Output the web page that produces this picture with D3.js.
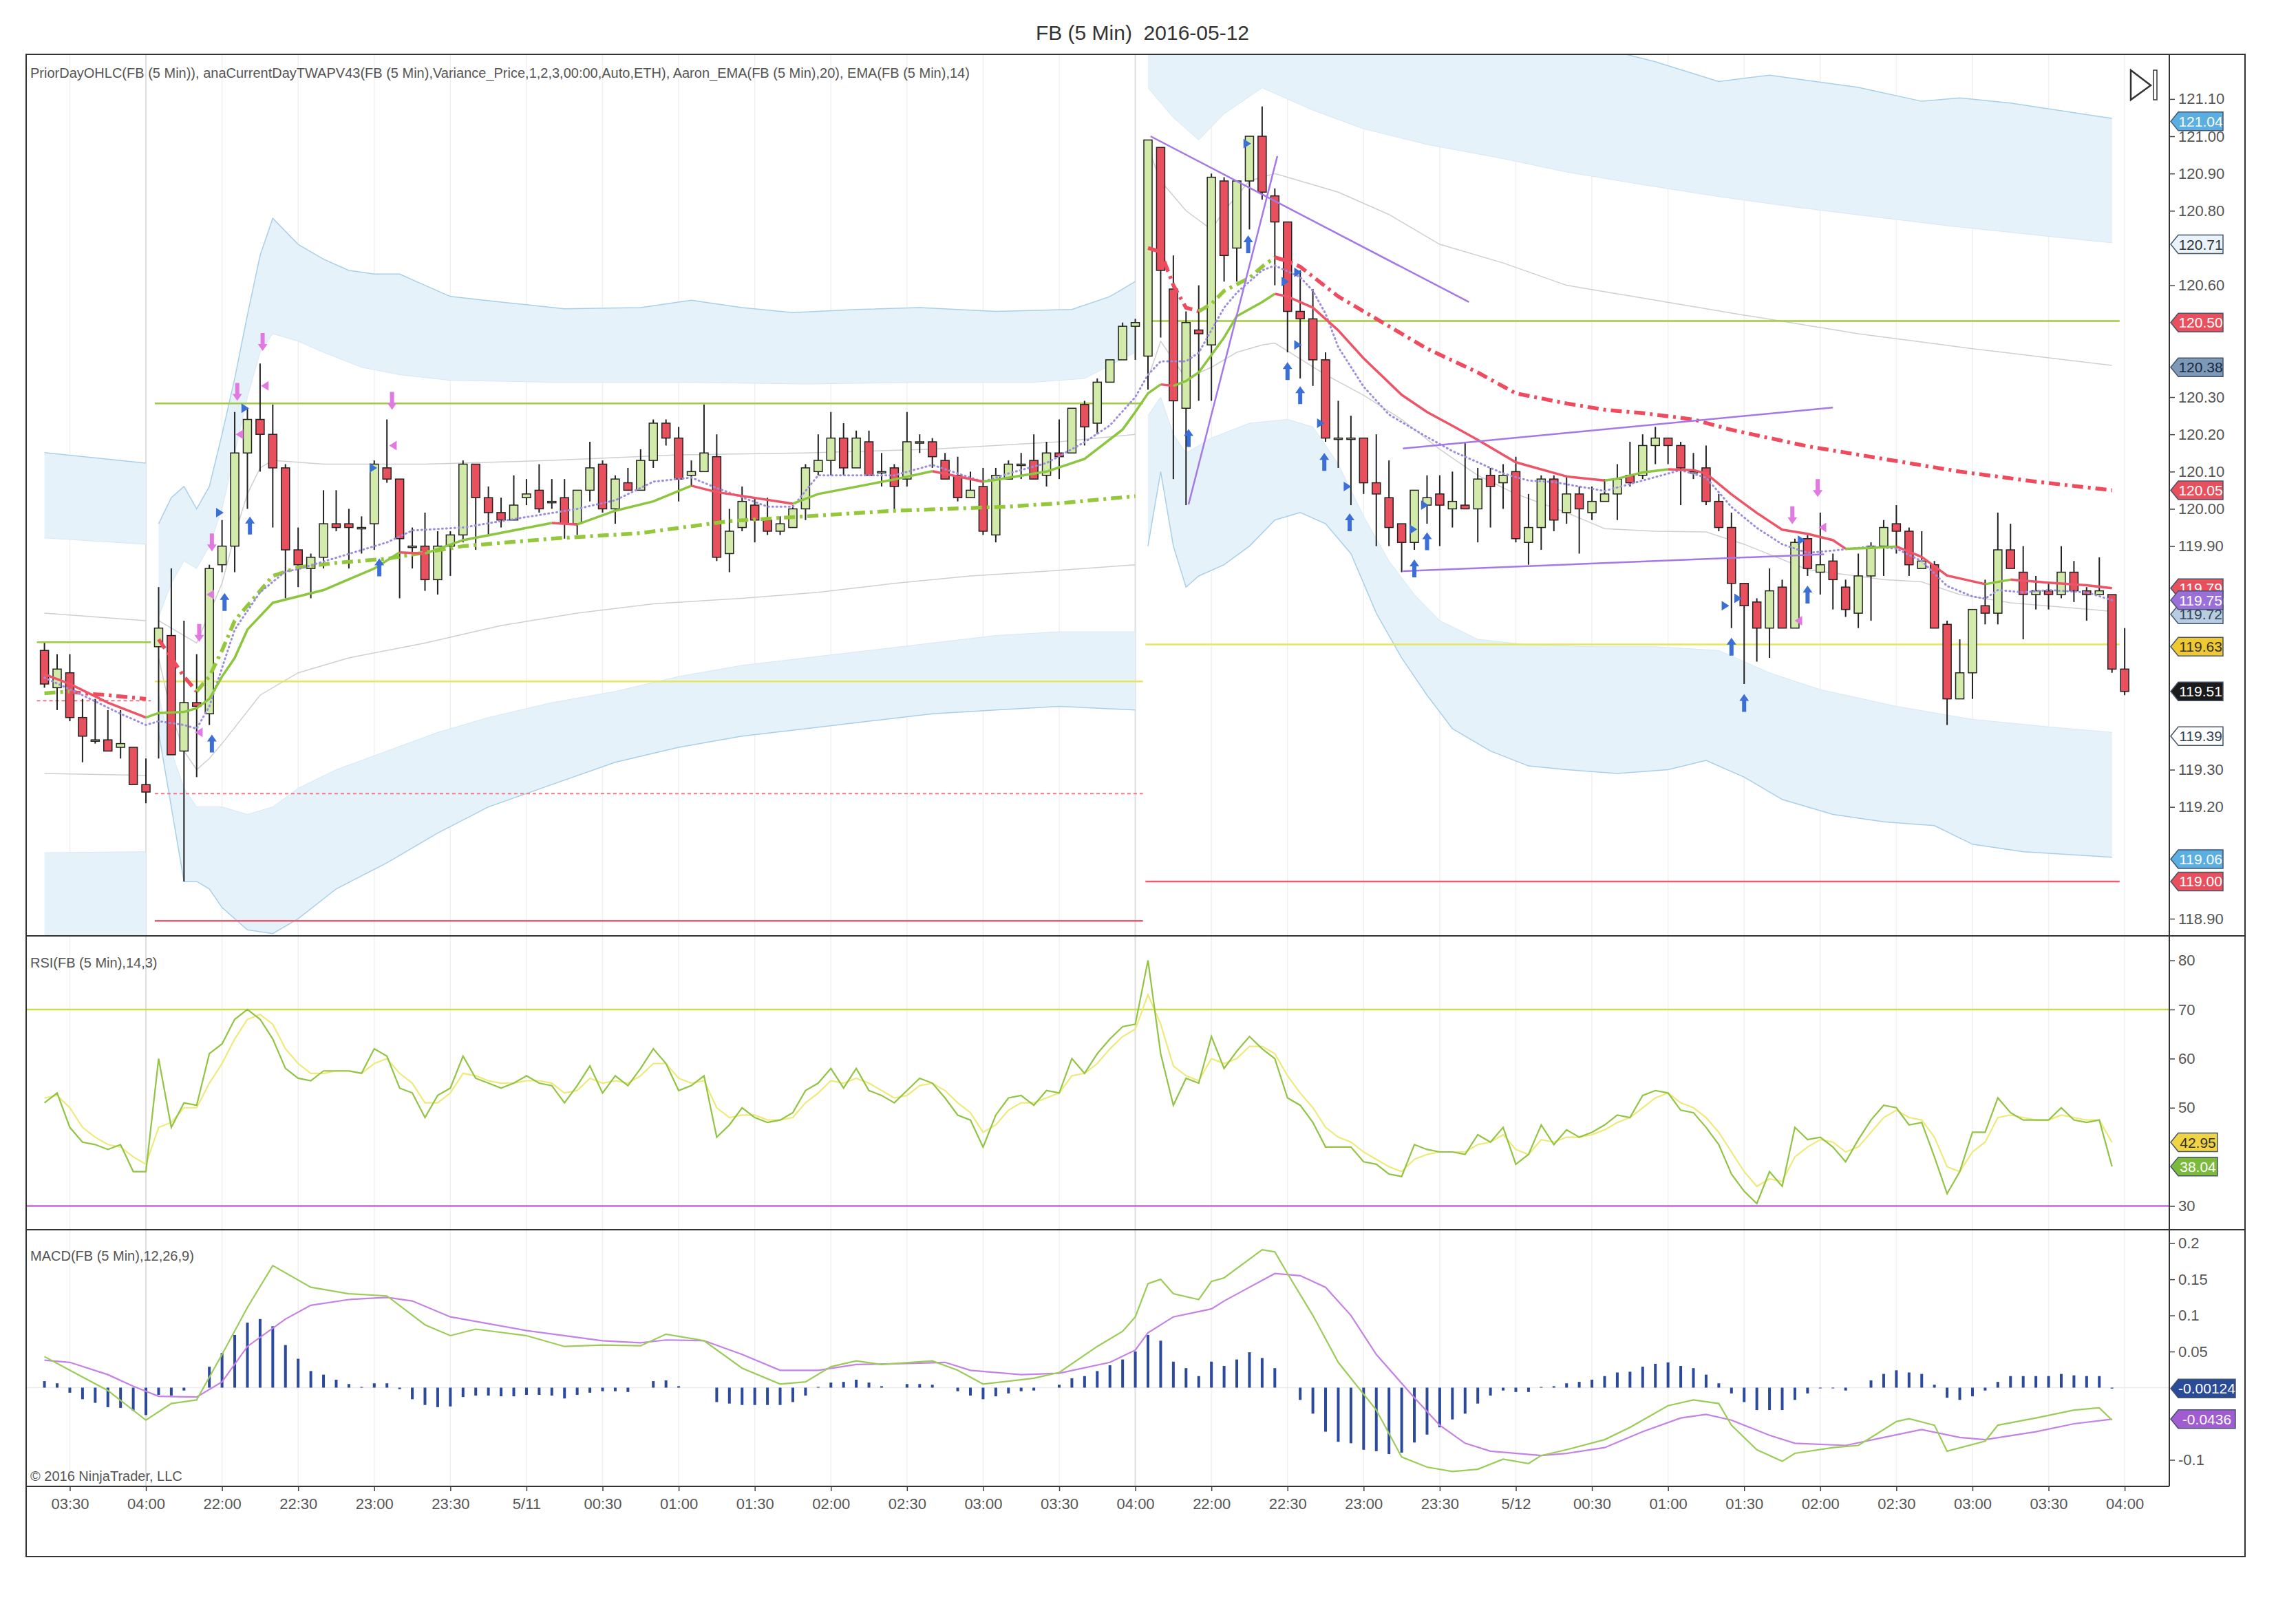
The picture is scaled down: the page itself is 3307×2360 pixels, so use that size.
<!DOCTYPE html>
<html>
<head>
<meta charset="utf-8">
<script src="https://cdn.jsdelivr.net/npm/d3@7"></script>
<style>body{margin:0;background:#fff}</style>
</head>
<body>
<svg id="chart"></svg>
<script>
// ---------- data ----------
// bar index -> time tick labels
const tickIdx = [2, 8, 14, 20, 26, 32, 38, 44, 50, 56, 62, 68, 74, 80, 86, 92, 98, 104, 110, 116, 122, 128, 134, 140, 146, 152, 158, 164];
const tickLabels = ["03:30", "04:00", "22:00", "22:30", "23:00", "23:30", "5/11", "00:30", "01:00", "01:30", "02:00", "02:30", "03:00", "03:30", "04:00",
  "22:00", "22:30", "23:00", "23:30", "5/12", "00:30", "01:00", "01:30", "02:00", "02:30", "03:00", "03:30", "04:00"];
const sessionBreaks = [8, 86];

const opens = [119.62,119.52,119.56,119.44,119.38,119.38,119.36,119.36,119.26,
  119.63,119.66,119.35,119.48,119.45,119.85,119.90,120.15,120.24,120.20,120.11,
  119.89,119.84,119.87,119.96,119.96,119.95,119.96,120.11,120.08,119.90,
  119.90,119.81,119.90,119.93,120.12,120.03,119.99,119.97,120.03,120.05,
  120.02,120.03,119.96,120.05,120.12,120.00,120.07,120.05,120.13,120.23,
  120.19,120.09,120.10,120.14,119.88,119.95,120.01,119.97,119.94,119.95,
  120.00,120.10,120.13,120.19,120.11,120.18,120.10,120.11,120.08,120.18,
  120.18,120.13,120.09,120.03,120.06,119.93,120.08,120.12,120.13,120.09,
  120.15,120.15,120.28,120.23,120.34,120.40,120.49,
  120.41,120.97,120.59,
  120.27,120.48,120.44,120.88,120.70,120.88,121.00,120.84,120.77,120.53,
  120.51,120.40,120.19,120.19,120.19,120.07,120.03,119.96,119.91,120.01,
  120.04,120.00,120.01,120.00,120.09,120.07,120.10,119.91,119.95,120.08,
  119.99,120.04,119.99,120.02,120.04,120.09,120.09,120.17,120.19,120.17,
  120.10,120.11,120.02,119.95,119.80,119.75,119.68,119.79,119.68,119.92,
  119.83,119.86,119.79,119.72,119.82,119.90,119.96,119.94,119.84,119.85,
  119.69,119.49,119.56,119.74,119.72,119.89,119.83,119.77,119.78,119.77,
  119.83,119.78,119.77,119.77,119.57];
const highs = [119.64,119.61,119.61,119.49,119.49,119.46,119.46,119.36,119.33,
  119.79,119.84,119.70,119.61,119.85,119.97,120.26,120.27,120.39,120.28,120.12,
  119.95,119.88,120.05,120.05,120.00,119.98,120.13,120.24,120.08,119.95,
  119.99,119.94,119.94,120.13,120.12,120.06,120.03,120.09,120.08,120.12,
  120.08,120.08,120.05,120.18,120.13,120.09,120.11,120.16,120.24,120.24,
  120.22,120.13,120.28,120.20,120.00,120.06,120.03,120.03,119.98,120.01,
  120.12,120.20,120.26,120.23,120.21,120.21,120.15,120.12,120.26,120.20,
  120.19,120.15,120.14,120.10,120.11,120.11,120.13,120.15,120.20,120.18,
  120.24,120.27,120.29,120.35,120.40,120.50,120.51,
  120.99,120.97,120.68,
  120.53,120.60,120.90,120.89,120.88,121.00,121.08,120.86,120.77,120.64,
  120.59,120.42,120.29,120.25,120.19,120.20,120.13,119.96,120.05,120.09,
  120.09,120.10,120.18,120.11,120.11,120.12,120.14,120.04,120.09,120.09,
  120.09,120.06,120.06,120.08,120.12,120.18,120.20,120.22,120.19,120.18,
  120.15,120.17,120.04,119.99,119.80,119.76,119.84,119.81,119.92,119.93,
  119.99,119.88,119.81,119.88,119.91,119.97,120.01,119.95,119.94,119.86,
  119.70,119.65,119.73,119.81,119.99,119.96,119.90,119.82,119.80,119.90,
  119.86,119.79,119.87,119.77,119.68];
const lows = [119.52,119.46,119.43,119.32,119.37,119.35,119.33,119.26,119.21,
  119.33,119.34,119.00,119.28,119.42,119.83,119.83,120.00,120.10,119.95,119.76,
  119.79,119.76,119.84,119.94,119.84,119.88,119.89,120.07,119.76,119.84,
  119.78,119.77,119.82,119.91,119.89,119.93,119.95,119.97,120.01,119.99,
  120.00,119.92,119.93,120.02,119.99,119.96,120.05,120.05,120.11,120.17,
  120.02,120.06,120.10,119.86,119.83,119.94,119.91,119.93,119.93,119.95,
  119.97,120.09,120.09,120.09,120.11,120.09,120.06,119.99,120.06,120.15,
  120.11,120.08,120.02,120.03,119.93,119.91,120.08,120.08,120.08,120.06,
  120.08,120.15,120.17,120.20,120.34,120.40,120.40,
  120.32,120.46,120.08,
  120.01,120.29,120.29,120.61,120.61,120.75,120.83,120.60,120.42,120.35,
  120.33,120.18,120.11,120.01,120.04,119.90,119.90,119.83,119.89,119.96,
  119.90,119.95,120.00,119.91,119.95,120.00,119.91,119.85,119.89,119.94,
  119.96,119.88,119.97,120.02,119.97,120.06,120.08,120.12,120.12,120.01,
  120.08,120.01,119.94,119.68,119.53,119.59,119.60,119.68,119.68,119.82,
  119.77,119.73,119.71,119.68,119.70,119.82,119.88,119.82,119.84,119.68,
  119.42,119.49,119.49,119.69,119.69,119.84,119.65,119.73,119.73,119.76,
  119.75,119.70,119.77,119.56,119.50];
const closes = [119.53,119.57,119.44,119.39,119.38,119.35,119.37,119.26,119.24,
  119.68,119.34,119.48,119.47,119.84,119.90,120.15,120.24,120.20,120.11,119.89,
  119.85,119.87,119.96,119.95,119.95,119.95,120.12,120.08,119.92,119.90,
  119.81,119.90,119.93,120.12,120.03,119.99,119.97,120.01,120.04,120.00,
  120.02,119.96,120.05,120.11,120.00,120.08,120.05,120.13,120.23,120.19,
  120.08,120.10,120.15,119.87,119.94,120.02,119.97,119.94,119.96,120.00,
  120.11,120.13,120.19,120.11,120.19,120.09,120.10,120.06,120.18,120.18,
  120.14,120.08,120.03,120.05,119.94,120.09,120.12,120.12,120.08,120.15,
  120.14,120.27,120.22,120.34,120.40,120.49,120.50,
  120.99,120.64,120.29,
  120.50,120.47,120.89,120.68,120.88,121.00,120.85,120.77,120.53,120.51,
  120.40,120.19,120.19,120.19,120.07,120.04,119.95,119.91,120.05,120.03,
  120.01,120.02,120.00,120.08,120.06,120.09,119.92,119.95,120.08,119.97,
  120.04,120.00,120.02,120.04,120.08,120.07,120.17,120.19,120.17,120.11,
  120.10,120.02,119.95,119.80,119.74,119.68,119.78,119.68,119.91,119.84,
  119.85,119.81,119.73,119.82,119.90,119.95,119.94,119.85,119.86,119.68,
  119.49,119.56,119.73,119.72,119.89,119.84,119.77,119.78,119.77,119.83,
  119.78,119.77,119.78,119.57,119.51];

// anaCurrentDayTWAP centre line [bar, price]
const twapPre = [[0,119.505],[2,119.51],[3,119.505],[5,119.50],[8,119.49]];
const twapS1 = [[9,119.65],[10,119.60],[11,119.55],[12,119.51],[13,119.55],[14,119.62],[15,119.70],[16,119.74],[17,119.78],[18,119.82],[20,119.843],[23,119.855],[27,119.866],[33,119.90],[40,119.92],[47,119.935],[54,119.967],[60,119.98],[67,119.995],[76,120.006],[80,120.015],[86,120.034]];
const twapS2 = [[87,120.70],[88,120.69],[89,120.60],[90,120.54],[91,120.53],[92,120.55],[93,120.585],[95,120.62],[96,120.65],[97,120.675],[98,120.665],[99,120.65],[102,120.57],[106,120.49],[109,120.43],[113,120.366],[116,120.31],[120,120.283],[123,120.266],[126,120.257],[130,120.24],[133,120.212],[139,120.168],[145,120.134],[151,120.10],[157,120.073],[163,120.05]];

// variance bands (+3/+2/+1/-1/-2/-3)
const preUp3 = [[0,120.151],[8,120.123]], preUp2 = [[0,119.922],[8,119.905]], preUp1 = [[0,119.72],[8,119.70]];
const preDn1 = [[0,119.29],[8,119.285]], preDn2 = [[0,119.077],[8,119.08]], preDn3 = [[0,118.80],[8,118.80]];
const s1Up3 = [[9,119.96],[10,120.03],[11,120.06],[12,120.0],[13,120.06],[14,120.2],[15,120.35],[16,120.52],[17,120.68],[18,120.78],[20,120.71],[22,120.67],[24,120.64],[26,120.63],[28,120.63],[30,120.60],[32,120.57],[36,120.555],[41,120.537],[47,120.54],[51,120.56],[55,120.54],[59,120.527],[64,120.535],[69,120.54],[75,120.53],[81,120.535],[84,120.57],[86,120.61]];
const s1Up2 = [[9,119.71],[10,119.80],[11,119.86],[12,119.84],[13,119.90],[14,120.0],[15,120.15],[16,120.30],[17,120.42],[18,120.47],[20,120.45],[22,120.42],[25,120.38],[28,120.36],[32,120.345],[40,120.34],[50,120.34],[60,120.335],[70,120.34],[78,120.34],[82,120.35],[86,120.42]];
const s1Up1 = [[9,119.70],[11,119.66],[12,119.64],[13,119.72],[14,119.80],[15,119.93],[16,120.04],[17,120.11],[18,120.13],[22,120.12],[30,120.12],[40,120.13],[50,120.145],[60,120.15],[70,120.16],[80,120.18],[86,120.20]];
const s1Dn1 = [[9,119.60],[10,119.45],[11,119.35],[12,119.30],[13,119.33],[14,119.37],[17,119.50],[20,119.56],[24,119.60],[30,119.64],[36,119.687],[42,119.72],[48,119.745],[55,119.76],[61,119.776],[67,119.80],[73,119.82],[80,119.835],[86,119.85]];
const s1Dn2 = [[9,119.50],[10,119.35],[11,119.25],[12,119.20],[14,119.20],[16,119.18],[18,119.20],[20,119.25],[23,119.30],[27,119.35],[31,119.40],[35,119.44],[40,119.48],[45,119.51],[50,119.55],[55,119.58],[60,119.60],[65,119.62],[70,119.64],[75,119.66],[80,119.67],[86,119.67]];
const s1Dn3 = [[9,119.40],[10,119.20],[11,119.0],[12,119.0],[13,118.98],[14,118.93],[16,118.87],[18,118.86],[20,118.90],[23,118.98],[27,119.05],[31,119.13],[35,119.20],[40,119.26],[45,119.32],[50,119.36],[55,119.39],[60,119.41],[65,119.43],[70,119.45],[75,119.46],[80,119.47],[86,119.46]];
const s2Up3 = [[87,121.50],[100,121.45],[110,121.35],[120,121.26],[127,121.20],[132,121.147],[136,121.164],[143,121.131],[148,121.094],[151,121.103],[155,121.089],[163,121.048]];
const s2Up2 = [[87,121.13],[89,121.05],[91,120.99],[93,121.06],[96,121.13],[100,121.07],[104,121.02],[109,120.978],[115,120.94],[120,120.904],[126,120.87],[132,120.838],[138,120.81],[143,120.789],[150,120.76],[157,120.735],[163,120.714]];
const s2Up1 = [[87,120.97],[88,120.88],[90,120.80],[92,120.75],[93,120.80],[95,120.88],[97,120.90],[102,120.85],[106,120.79],[110,120.71],[115,120.66],[120,120.60],[127,120.56],[134,120.52],[143,120.47],[152,120.43],[163,120.385]];
const s2Dn1 = [[87,120.35],[88,120.45],[90,120.35],[92,120.38],[94,120.42],[96,120.44],[97,120.445],[101,120.36],[104,120.305],[107,120.24],[110,120.16],[113,120.09],[116,120.04],[120,119.99],[123,119.947],[127,119.94],[131,119.938],[134,119.905],[139,119.837],[145,119.81],[148,119.804],[151,119.77],[155,119.748],[163,119.725]];
const s2Dn2 = [[87,120.25],[88,120.30],[89,120.20],[90,120.15],[91,120.17],[92,120.19],[95,120.23],[98,120.24],[100,120.22],[102,120.12],[104,119.98],[106,119.86],[108,119.77],[110,119.70],[113,119.65],[117,119.635],[122,119.63],[127,119.63],[132,119.62],[136,119.56],[140,119.515],[146,119.47],[152,119.435],[158,119.415],[163,119.40]];
const s2Dn3 = [[87,119.90],[88,120.10],[89,119.90],[90,119.79],[91,119.82],[93,119.85],[95,119.90],[97,119.97],[99,119.99],[101,119.96],[103,119.88],[105,119.72],[107,119.60],[109,119.50],[111,119.41],[114,119.35],[117,119.31],[120,119.30],[124,119.29],[128,119.30],[131,119.325],[134,119.28],[137,119.22],[141,119.18],[145,119.16],[149,119.15],[152,119.10],[156,119.08],[163,119.065]];

// Aaron_EMA(20) and EMA(14)
const aaronEma = [[0,119.556],[2,119.53],[5,119.48],[8,119.44],[9,119.452],[11,119.455],[12,119.465],[13,119.49],[14,119.55],[15,119.60],[16,119.676],[18,119.748],[20,119.765],[22,119.782],[26,119.84],[28,119.883],[30,119.880],[33,119.916],[40,119.962],[42,119.958],[45,119.995],[48,120.02],[51,120.062],[53,120.045],[59,120.014],[61,120.04],[67,120.079],[70,120.101],[74,120.073],[75,120.078],[79,120.10],[82,120.134],[85,120.213],[86,120.26],[87,120.31],[88,120.334],[89,120.33],[90,120.343],[91,120.366],[93,120.46],[94,120.517],[96,120.555],[97,120.577],[98,120.57],[100,120.54],[102,120.479],[104,120.404],[107,120.306],[109,120.26],[111,120.223],[113,120.185],[116,120.125],[120,120.087],[123,120.076],[124,120.081],[126,120.098],[128,120.106],[130,120.104],[131,120.095],[133,120.039],[135,119.989],[137,119.944],[139,119.933],[141,119.916],[142,119.893],[144,119.895],[146,119.899],[148,119.871],[150,119.821],[153,119.798],[155,119.81],[158,119.802],[161,119.795],[163,119.787]];
const ema14 = [[0,119.547],[3,119.50],[6,119.45],[8,119.42],[9,119.43],[11,119.42],[12,119.41],[13,119.47],[15,119.676],[17,119.776],[19,119.832],[20,119.838],[27,119.91],[29,119.942],[33,119.95],[36,119.967],[42,120.0],[45,120.023],[48,120.073],[51,120.084],[53,120.056],[57,120.006],[59,120.006],[61,120.09],[67,120.09],[70,120.118],[72,120.095],[74,120.073],[76,120.095],[79,120.123],[82,120.179],[84,120.224],[86,120.30],[87,120.36],[88,120.396],[90,120.396],[91,120.419],[93,120.54],[94,120.58],[96,120.64],[97,120.653],[99,120.622],[100,120.585],[101,120.524],[102,120.434],[104,120.328],[106,120.253],[109,120.193],[111,120.155],[113,120.125],[115,120.095],[117,120.076],[119,120.072],[123,120.048],[126,120.076],[129,120.104],[131,120.084],[133,120.005],[135,119.949],[137,119.905],[139,119.882],[141,119.888],[144,119.899],[146,119.893],[148,119.86],[150,119.793],[152,119.765],[153,119.759],[154,119.782],[156,119.776],[158,119.782],[161,119.776],[163,119.755]];

// PriorDayOHLC segments [fromBar, toBar, price]
const priorHigh = [[-0.6,8.4,119.642],[8.7,86.6,120.283],[86.8,163.6,120.504]];
const priorOpen = [[8.7,86.6,119.537],[86.8,163.6,119.636]];
const priorClose = [[-0.6,8.4,119.485],[8.7,86.6,119.236]];
const priorLow = [[8.7,86.6,118.894],[86.8,163.6,119.00]];

// drawn trend lines [bar1, price1, bar2, price2]
const trendLines = [[87.2,121.00,112.3,120.555],[90.2,120.012,97.2,120.947],[107.1,120.162,141,120.272],[107.1,119.833,140.3,119.878]];

// signal markers [bar, price]
const blueUp = [[13.2,119.37],[14.2,119.75],[16.2,119.955],[26.4,119.843],[90.2,120.19],[94.9,120.71],[98.0,120.37],[99.0,120.305],[100.9,120.126],[102.9,119.964],[108.0,119.84],[109.0,119.913],[133.0,119.63],[134.0,119.479],[139.0,119.77]];
const magentaDown = [[12.2,119.667],[13.2,119.91],[15.2,120.314],[17.2,120.448],[27.4,120.29],[137.8,119.983],[139.8,120.056]];
const blueRight = [[13.8,119.99],[15.8,120.27],[25.9,120.11],[94.8,120.98],[97.8,120.61],[98.8,120.635],[98.8,120.44],[100.6,120.23],[102.7,120.06],[107.9,119.945],[108.8,120.01],[132.5,119.74],[133.5,119.76],[138.5,119.916]];
const magentaLeft = [[12.2,119.40],[13.1,119.77],[15.4,120.20],[17.4,120.33],[27.5,120.17],[138.3,119.70],[140.2,119.95]];

// RSI(14,3)
const rsiVals = [51,53,46,43,42.5,41.5,42.5,37,37,60,
  46,51,50.5,61,63,68,70,68,64,58,
  56,55.5,57.5,57.5,57.5,57,62,60.5,54,53,
  48,52.5,54,60.5,56,55,54,55,56.5,55,
  54.5,51,54.5,58.5,53,56.5,54.5,58,62,59,
  53.5,54.5,56.5,44,46.5,50,48,47,47.5,49,
  53.5,55,58,54,58,53.5,52.5,51,53.5,56,
  55,52,48.5,47.5,42,48.5,52,52.5,50.5,53.5,
  53,60,57,61,64,66.5,67,80,61,50.5,
  56,55,64.5,58,61.5,64.5,62,60,52,50.5,
  47,42,42,42,39,38.5,36.5,36,42.5,41.5,
  41,41,40.5,44.5,43,46,38.5,40.5,46.5,42.5,
  45.5,44,45,46.5,48.5,48,52.5,53.5,53,49.5,
  49,46,42.5,36.5,33,30.5,37,34,46,43.5,
  44,42,39,43.5,47.5,50.5,50,46.5,47,40,
  32.5,37,45,45,52,49,47.5,47.5,47.5,50,
  47.5,47,47.5,38.04];
const rsiAvg = [52,52.5,50,46,44,42.5,42,40,38.5,46,
  47,50,50,55,59,64,68,69,67,62,
  59,57,57,57.5,57.5,57,59,60,57,55,
  51,51,53,57,56.5,55.5,55,55,55.5,55.5,
  55,53,53.5,56,55,55.5,55,56.5,59,59,
  56,55,55.5,50,48,48.5,48.5,47.5,47.5,48,
  51,53,55.5,55,56,55,53.5,52,52.5,54.5,
  55,53.5,51,49,45,46.5,49.5,51,51,52,
  53,56.5,57,59,62,64.5,66,73,67,58.5,
  56.5,55.5,60,59,60,62.5,62.5,61,56.5,53,
  50,46,44,43,41,39.5,38,37,39.5,40.5,
  41,41,41,42.5,43,44.5,41.5,40.5,43.5,43,
  44,44,44.5,45.5,47,48,50,52,53,51,
  50,48,45,41,37,34,35.5,35,40,42,
  43.5,43,41,42,45,48,49.5,48,47.5,44,
  38,37,41,43,48,48.5,48,47.5,47.5,48.5,
  48,47.5,47.5,42.95];

// MACD(12,26,9)
const macdLine = [[0,0.043],[2,0.024],[5,-0.004],[8,-0.045],[10,-0.022],[12,-0.017],[14,0.046],[16,0.111],[18,0.169],[21,0.139],[24,0.130],[27,0.127],[30,0.087],[32,0.072],[34,0.081],[38,0.072],[41,0.057],[44,0.059],[47,0.058],[49,0.074],[52,0.065],[55,0.027],[58,0.005],[60,0.008],[62,0.029],[64,0.037],[66,0.032],[70,0.037],[72,0.024],[74,0.005],[78,0.013],[80,0.021],[83,0.057],[85,0.078],[86,0.098],[87,0.144],[88,0.150],[89,0.130],[91,0.122],[92,0.147],[93,0.152],[96,0.191],[97,0.188],[98,0.158],[100,0.100],[102,0.035],[105,-0.031],[107,-0.096],[109,-0.110],[111,-0.116],[113,-0.113],[115,-0.099],[117,-0.105],[118,-0.094],[120,-0.086],[123,-0.072],[125,-0.055],[128,-0.025],[130,-0.017],[132,-0.022],[133,-0.052],[135,-0.086],[137,-0.102],[138,-0.091],[141,-0.083],[143,-0.080],[144,-0.069],[146,-0.047],[147,-0.043],[149,-0.052],[150,-0.088],[153,-0.074],[154,-0.052],[157,-0.042],[160,-0.031],[162,-0.028],[163,-0.045]];
const macdSignal = [[0,0.038],[2,0.035],[5,0.018],[7,0.002],[9,-0.012],[12,-0.013],[14,0.008],[16,0.057],[19,0.095],[21,0.114],[24,0.122],[27,0.125],[29,0.120],[32,0.098],[38,0.079],[44,0.065],[47,0.062],[49,0.066],[52,0.065],[55,0.046],[58,0.024],[61,0.024],[64,0.032],[67,0.033],[71,0.035],[73,0.024],[77,0.018],[80,0.020],[84,0.035],[86,0.052],[87,0.076],[89,0.098],[92,0.109],[93,0.120],[95,0.139],[97,0.158],[99,0.155],[101,0.139],[103,0.100],[105,0.046],[108,-0.014],[110,-0.052],[112,-0.077],[114,-0.088],[118,-0.094],[120,-0.091],[123,-0.083],[126,-0.061],[129,-0.042],[131,-0.037],[133,-0.045],[136,-0.066],[138,-0.077],[142,-0.080],[145,-0.069],[148,-0.058],[151,-0.069],[153,-0.072],[157,-0.061],[160,-0.050],[163,-0.0436]];
const macdDiff = [0.009,0.006,-0.007,-0.016,-0.021,-0.027,-0.028,-0.032,-0.038,-0.010,
  -0.011,-0.004,0.000,0.029,0.048,0.073,0.090,0.095,0.085,0.059,
  0.040,0.023,0.018,0.011,0.005,0.001,0.006,0.006,-0.002,-0.016,
  -0.024,-0.027,-0.026,-0.013,-0.011,-0.011,-0.012,-0.012,-0.010,-0.010,
  -0.011,-0.015,-0.010,-0.007,-0.005,-0.005,-0.006,0.000,0.009,0.010,
  0.002,0.000,0.000,-0.020,-0.022,-0.024,-0.024,-0.024,-0.024,-0.020,
  -0.011,0.001,0.007,0.008,0.011,0.007,0.002,0.000,0.005,0.005,
  0.004,0.000,-0.005,-0.011,-0.016,-0.012,-0.008,-0.005,-0.004,0.000,
  0.004,0.013,0.016,0.023,0.031,0.039,0.050,0.073,0.065,0.036,
  0.027,0.016,0.036,0.030,0.039,0.049,0.041,0.027,0.000,-0.017,
  -0.036,-0.061,-0.075,-0.077,-0.086,-0.088,-0.092,-0.090,-0.076,-0.065,
  -0.055,-0.044,-0.036,-0.022,-0.011,-0.004,-0.006,-0.006,0.001,0.002,
  0.006,0.008,0.011,0.016,0.021,0.022,0.029,0.033,0.035,0.030,
  0.027,0.018,0.006,-0.008,-0.020,-0.031,-0.031,-0.031,-0.017,-0.008,
  -0.001,-0.001,-0.004,0.000,0.010,0.019,0.024,0.021,0.019,0.004,
  -0.014,-0.017,-0.012,-0.004,0.008,0.016,0.016,0.016,0.016,0.019,
  0.017,0.016,0.016,-0.00124];

// axis ticks (only the labels the value boxes leave visible) and last-value boxes
const priceTicks = [118.9,119.2,119.3,119.9,120.0,120.1,120.2,120.3,120.6,120.8,120.9,121.0,121.1];
const rsiTicks = [30, 50, 60, 70, 80];
const macdTicks = [-0.1, 0.05, 0.1, 0.15, 0.2];
const priceBoxes = [
  [121.04, "121.04", "#5aaee2", "#ffffff"],
  [120.71, "120.71", "#e9f3fb", "#333333"],
  [120.50, "120.50", "#e8505e", "#ffffff"],
  [120.38, "120.38", "#7e98b8", "#1a2a40"],
  [120.05, "120.05", "#e8505e", "#ffffff"],
  [119.787, "119.79", "#e8505e", "#ffffff"],
  [119.717, "119.72", "#b8cce2", "#334455"],
  [119.755, "119.75", "#9a70d8", "#ffffff"],
  [119.63, "119.63", "#f0c832", "#333333"],
  [119.51, "119.51", "#1a1a1a", "#ffffff"],
  [119.39, "119.39", "#ffffff", "#334455"],
  [119.06, "119.06", "#5aaee2", "#ffffff"],
  [119.00, "119.00", "#e8505e", "#ffffff"]];
const rsiBoxes = [[42.95, "42.95", "#f0d446", "#333333"], [38.04, "38.04", "#7cba3c", "#ffffff"]];
const macdBoxes = [[-0.00124, "-0.00124", "#2a4a9a", "#ffffff"], [-0.0436, "-0.0436", "#a05cd0", "#ffffff"]];

// ---------- drawing ----------
const W = 3307, H = 2360;
const FONT = "'Liberation Sans Narrow','Liberation Sans',Arial,sans-serif";
const plotL = 38, plotR = 3152, frameR = 3262;
const priceTop = 79, priceBot = 1360, rsiBot = 1787, macdBot = 2160, frameBot = 2262;
const UP = "#d3ebaa", DOWN = "#e8505e", GREEN = "#8cc63f", RED = "#ee5468";

const svg = d3.select("#chart").attr("width", W).attr("height", H);
svg.append("rect").attr("width", W).attr("height", H).attr("fill", "#fff");

const x = d3.scaleLinear().domain([-1.443, 167.52]).range([plotL, plotR]);
const yP = d3.scaleLinear().domain([118.854, 121.2198]).range([priceBot, priceTop]);
const yR = d3.scaleLinear().domain([25.17, 84.99]).range([rsiBot, priceBot]);
const yM = d3.scaleLinear().domain([-0.1367, 0.2187]).range([macdBot, rsiBot]);

const defs = svg.append("defs");
[["clipP", priceTop, priceBot], ["clipR", priceBot, rsiBot], ["clipM", rsiBot, macdBot]].forEach(c => {
  defs.append("clipPath").attr("id", c[0]).append("rect")
    .attr("x", plotL).attr("y", c[1]).attr("width", plotR - plotL).attr("height", c[2] - c[1]);
});

// title
svg.append("text").attr("x", 1660).attr("y", 58).attr("text-anchor", "middle")
  .attr("font-family", FONT).attr("font-size", 30).attr("fill", "#333")
  .text("FB (5 Min)\u00a0\u00a02016-05-12");

// vertical grid
const grid = svg.append("g");
grid.selectAll("line.g").data(tickIdx).join("line")
  .attr("x1", d => x(d)).attr("x2", d => x(d)).attr("y1", priceTop).attr("y2", macdBot)
  .attr("stroke", "#f0f0f0").attr("stroke-width", 1.5);
grid.selectAll("line.s").data(sessionBreaks).join("line")
  .attr("x1", d => x(d)).attr("x2", d => x(d)).attr("y1", priceTop).attr("y2", macdBot)
  .attr("stroke", "#dedede").attr("stroke-width", 2);

const gP = svg.append("g").attr("clip-path", "url(#clipP)");
const lineP = d3.line().x(d => x(d[0])).y(d => yP(d[1]));

function bandPath(a, b) {
  const pts = a.map(d => [x(d[0]), yP(d[1])]).concat(b.slice().reverse().map(d => [x(d[0]), yP(d[1])]));
  return d3.line()(pts) + "Z";
}
const bandSets = [
  [preUp3, preUp2, preUp1, preDn1, preDn2, preDn3],
  [s1Up3, s1Up2, s1Up1, s1Dn1, s1Dn2, s1Dn3],
  [s2Up3, s2Up2, s2Up1, s2Dn1, s2Dn2, s2Dn3]];
bandSets.forEach(b => {
  gP.append("path").attr("d", bandPath(b[0], b[1])).attr("fill", "#e6f2fa");
  gP.append("path").attr("d", bandPath(b[4], b[5])).attr("fill", "#e6f2fa");
  [b[0], b[5]].forEach(s => gP.append("path").attr("d", lineP(s)).attr("fill", "none").attr("stroke", "#a9cfe8").attr("stroke-width", 1.5));
  [b[1], b[4]].forEach(s => gP.append("path").attr("d", lineP(s)).attr("fill", "none").attr("stroke", "#d6e8f4").attr("stroke-width", 1));
  [b[2], b[3]].forEach(s => gP.append("path").attr("d", lineP(s)).attr("fill", "none").attr("stroke", "#cfcfcf").attr("stroke-width", 1.5));
});

// prior day lines
function hSegs(segs, color, width, dash) {
  gP.selectAll(null).data(segs).join("line")
    .attr("x1", d => x(d[0])).attr("x2", d => x(d[1])).attr("y1", d => yP(d[2])).attr("y2", d => yP(d[2]))
    .attr("stroke", color).attr("stroke-width", width).attr("stroke-dasharray", dash);
}
hSegs(priorHigh, "#9ccc3c", 2.5, null);
hSegs(priorOpen, "#e6e65a", 2.5, null);
hSegs(priorClose, "#ee7a8a", 2, "5,4");
hSegs(priorLow, "#ee5a70", 2.5, null);

// split a knot series into rising / falling runs
function slopeRuns(knots) {
  const runs = [];
  let cur = [knots[0]], dir = null;
  for (let k = 1; k < knots.length; k++) {
    const d = knots[k][1] >= knots[k - 1][1] ? "up" : "down";
    if (dir !== null && d !== dir) { runs.push({ dir, pts: cur }); cur = [knots[k - 1]]; }
    dir = d;
    cur.push(knots[k]);
  }
  runs.push({ dir, pts: cur });
  return runs;
}

// candles
const idx = d3.range(opens.length);
gP.selectAll("line.wick").data(idx).join("line")
  .attr("x1", i => x(i)).attr("x2", i => x(i)).attr("y1", i => yP(highs[i])).attr("y2", i => yP(lows[i]))
  .attr("stroke", "#222").attr("stroke-width", 2);
gP.selectAll("rect.body").data(idx).join("rect")
  .attr("x", i => x(i) - 6).attr("width", 12)
  .attr("y", i => Math.min(yP(opens[i]), yP(closes[i])))
  .attr("height", i => Math.max(2, Math.abs(yP(opens[i]) - yP(closes[i]))))
  .attr("fill", i => closes[i] >= opens[i] ? UP : DOWN)
  .attr("stroke", "#222").attr("stroke-width", 1.5);

// TWAP centre (dash-dot, coloured by slope)
[twapPre, twapS1, twapS2].forEach(s => slopeRuns(s).forEach(r => {
  gP.append("path").attr("d", lineP(r.pts)).attr("fill", "none")
    .attr("stroke", r.dir === "up" ? "#94c83a" : "#f04a5e").attr("stroke-width", 5.5)
    .attr("stroke-dasharray", "16,7,4,7");
}));

// EMA(14) dotted
gP.append("path").attr("d", lineP(ema14)).attr("fill", "none")
  .attr("stroke", "#9a8ce0").attr("stroke-width", 3).attr("stroke-dasharray", "1,5").attr("stroke-linecap", "round");

// Aaron EMA solid, coloured by slope
slopeRuns(aaronEma).forEach(r => {
  gP.append("path").attr("d", lineP(r.pts)).attr("fill", "none")
    .attr("stroke", r.dir === "up" ? GREEN : RED).attr("stroke-width", 3.5);
});

// trend lines
gP.selectAll("line.trend").data(trendLines).join("line")
  .attr("x1", d => x(d[0])).attr("y1", d => yP(d[1])).attr("x2", d => x(d[2])).attr("y2", d => yP(d[3]))
  .attr("stroke", "#a478e6").attr("stroke-width", 2.5);

// markers
const upArrow = "M0,-13L7,-3L3,-3L3,13L-3,13L-3,-3L-7,-3Z";
const downArrow = "M0,13L7,3L3,3L3,-13L-3,-13L-3,3L-7,3Z";
gP.selectAll("path.bu").data(blueUp).join("path").attr("d", upArrow)
  .attr("transform", d => `translate(${x(d[0])},${yP(d[1])})`).attr("fill", "#3c6fd6");
gP.selectAll("path.md").data(magentaDown).join("path").attr("d", downArrow)
  .attr("transform", d => `translate(${x(d[0])},${yP(d[1])})`).attr("fill", "#e07ae0");
gP.selectAll("path.br").data(blueRight).join("path").attr("d", "M-5,-7L6,0L-5,7Z")
  .attr("transform", d => `translate(${x(d[0])},${yP(d[1])})`).attr("fill", "#3c6fd6");
gP.selectAll("path.ml").data(magentaLeft).join("path").attr("d", "M5,-7L-6,0L5,7Z")
  .attr("transform", d => `translate(${x(d[0])},${yP(d[1])})`).attr("fill", "#e07ae0");

// chart trader icon
svg.append("path").attr("d", "M3096,102L3125,124L3096,145Z").attr("fill", "none").attr("stroke", "#333").attr("stroke-width", 2.5);
svg.append("rect").attr("x", 3129).attr("y", 102).attr("width", 5).attr("height", 43).attr("fill", "none").attr("stroke", "#333").attr("stroke-width", 1.5);

// RSI panel
const gR = svg.append("g").attr("clip-path", "url(#clipR)");
gR.append("line").attr("x1", plotL).attr("x2", plotR).attr("y1", yR(70)).attr("y2", yR(70)).attr("stroke", "#cbdc52").attr("stroke-width", 2.5);
gR.append("line").attr("x1", plotL).attr("x2", plotR).attr("y1", yR(30)).attr("y2", yR(30)).attr("stroke", "#c466d6").attr("stroke-width", 2.5);
const lineR = d3.line().x((d, i) => x(i)).y(d => yR(d));
gR.append("path").attr("d", lineR(rsiAvg)).attr("fill", "none").attr("stroke", "#eeea7a").attr("stroke-width", 2.2);
gR.append("path").attr("d", lineR(rsiVals)).attr("fill", "none").attr("stroke", "#92c444").attr("stroke-width", 2.2);

// MACD panel
const gM = svg.append("g").attr("clip-path", "url(#clipM)");
gM.append("line").attr("x1", plotL).attr("x2", plotR).attr("y1", yM(0)).attr("y2", yM(0)).attr("stroke", "#ececec").attr("stroke-width", 1.5);
gM.selectAll("rect.h").data(macdDiff).join("rect")
  .attr("x", (d, i) => x(i) - 2).attr("width", 4)
  .attr("y", d => Math.min(yM(0), yM(d))).attr("height", d => Math.abs(yM(d) - yM(0)))
  .attr("fill", "#2c4a9c");
const lineM = d3.line().x(d => x(d[0])).y(d => yM(d[1]));
gM.append("path").attr("d", lineM(macdSignal)).attr("fill", "none").attr("stroke", "#c482e4").attr("stroke-width", 2.2);
gM.append("path").attr("d", lineM(macdLine)).attr("fill", "none").attr("stroke", "#9ccc58").attr("stroke-width", 2.2);

// frame and separators
svg.append("rect").attr("x", plotL).attr("y", priceTop).attr("width", frameR - plotL).attr("height", frameBot - priceTop)
  .attr("fill", "none").attr("stroke", "#333").attr("stroke-width", 2);
[priceBot, rsiBot].forEach(yy => svg.append("line").attr("x1", plotL).attr("x2", frameR).attr("y1", yy).attr("y2", yy).attr("stroke", "#333").attr("stroke-width", 2));
svg.append("line").attr("x1", plotL).attr("x2", plotR).attr("y1", macdBot).attr("y2", macdBot).attr("stroke", "#333").attr("stroke-width", 2);
svg.append("line").attr("x1", plotR).attr("x2", plotR).attr("y1", priceTop).attr("y2", macdBot).attr("stroke", "#333").attr("stroke-width", 2);

// axes
function styleAxis(g) {
  g.select(".domain").remove();
  g.selectAll("line").attr("stroke", "#444").attr("stroke-width", 1.5);
  g.selectAll("text").attr("font-family", FONT).attr("font-size", 22).attr("fill", "#555");
}
svg.append("g").attr("transform", `translate(${plotR},0)`)
  .call(d3.axisRight(yP).tickValues(priceTicks).tickFormat(d3.format(".2f")).tickSize(8).tickPadding(5)).call(styleAxis);
svg.append("g").attr("transform", `translate(${plotR},0)`)
  .call(d3.axisRight(yR).tickValues(rsiTicks).tickFormat(d3.format("d")).tickSize(8).tickPadding(5)).call(styleAxis);
svg.append("g").attr("transform", `translate(${plotR},0)`)
  .call(d3.axisRight(yM).tickValues(macdTicks).tickFormat(d => String(d)).tickSize(8).tickPadding(5)).call(styleAxis);
svg.append("g").attr("transform", `translate(0,${macdBot})`)
  .call(d3.axisBottom(x).tickValues(tickIdx).tickFormat((d, i) => tickLabels[i]).tickSize(7).tickPadding(10)).call(styleAxis);

// value boxes on the right axis
function valueBoxes(list, scale, right) {
  list.forEach(b => {
    const yy = scale(b[0]);
    svg.append("path")
      .attr("d", `M${plotR + 2},${yy}L${plotR + 13},${yy - 13.5}L${right},${yy - 13.5}L${right},${yy + 13.5}L${plotR + 13},${yy + 13.5}Z`)
      .attr("fill", b[2]).attr("stroke", "#44546a").attr("stroke-width", 1.5);
    svg.append("text").attr("x", (plotR + 13 + right) / 2).attr("y", yy + 7.5).attr("text-anchor", "middle")
      .attr("font-family", FONT).attr("font-size", 21).attr("fill", b[3]).text(b[1]);
  });
}
valueBoxes(priceBoxes, yP, 3230);
valueBoxes(rsiBoxes, yR, 3222);
valueBoxes(macdBoxes, yM, 3248);

// panel captions
const captions = [
  [113, "PriorDayOHLC(FB (5 Min)), anaCurrentDayTWAPV43(FB (5 Min),Variance_Price,1,2,3,00:00,Auto,ETH), Aaron_EMA(FB (5 Min),20), EMA(FB (5 Min),14)"],
  [1406, "RSI(FB (5 Min),14,3)"],
  [1832, "MACD(FB (5 Min),12,26,9)"],
  [2152, "\u00a9 2016 NinjaTrader, LLC"]];
svg.selectAll("text.cap").data(captions).join("text")
  .attr("x", 44).attr("y", d => d[0]).attr("font-family", FONT).attr("font-size", 20).attr("fill", "#555")
  .text(d => d[1]);
</script>
</body>
</html>
